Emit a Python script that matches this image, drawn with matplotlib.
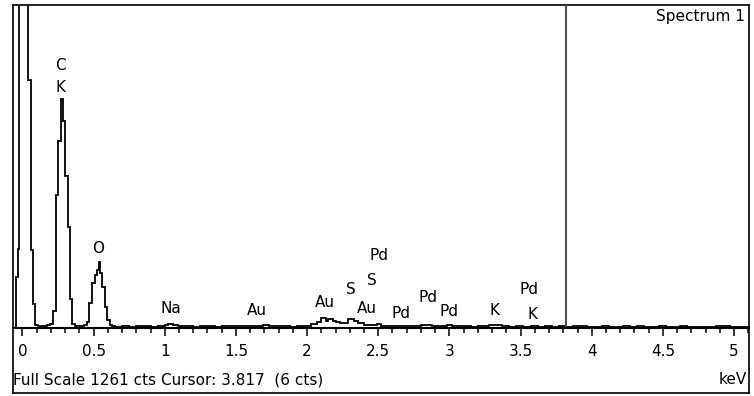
import numpy as np
import matplotlib
matplotlib.use('Agg')
import matplotlib.pyplot as plt
from matplotlib.ticker import MultipleLocator, FixedLocator, FixedFormatter

plt.rcParams['font.family'] = ['DejaVu Sans']

# EDS spectrum, channel edges (keV) and counts per channel
edges = [-0.07, -0.042, -0.033, -0.021, 0.042, 0.061, 0.075, 0.091, 0.11, 0.13,
         0.15, 0.17, 0.19, 0.212, 0.235, 0.251, 0.268, 0.286, 0.302, 0.319,
         0.334, 0.349, 0.37, 0.39, 0.41, 0.43, 0.455, 0.471, 0.49, 0.509,
         0.525, 0.537, 0.548, 0.56, 0.579, 0.596, 0.612, 0.63, 0.65, 0.7,
         0.75, 0.8, 0.85, 0.9, 0.95, 1.0, 1.02, 1.06, 1.09, 1.15,
         1.2, 1.25, 1.3, 1.35, 1.4, 1.45, 1.5, 1.55, 1.6, 1.65,
         1.69, 1.73, 1.78, 1.83, 1.88, 1.93, 1.98, 2.03, 2.07, 2.1,
         2.13, 2.15, 2.18, 2.2, 2.23, 2.29, 2.33, 2.36, 2.4, 2.45,
         2.49, 2.52, 2.56, 2.6, 2.65, 2.7, 2.75, 2.8, 2.83, 2.88,
         2.93, 2.98, 3.02, 3.06, 3.1, 3.15, 3.2, 3.25, 3.28, 3.33,
         3.37, 3.42, 3.47, 3.52, 3.57, 3.62, 3.67, 3.72, 3.77, 3.82,
         3.87, 3.92, 3.97, 4.02, 4.07, 4.12, 4.17, 4.22, 4.27, 4.32,
         4.37, 4.42, 4.47, 4.52, 4.57, 4.62, 4.67, 4.72, 4.77, 4.82,
         4.87, 4.92, 4.97, 5.02, 5.105]
counts = [0, 200, 310, 3000, 970, 305, 95, 10, 6, 8,
          7, 10, 15, 65, 520, 730, 893, 810, 592, 395,
          115, 14, 8, 6, 9, 12, 24, 98, 176, 205,
          225, 258, 215, 160, 82, 31, 12, 6, 4, 7,
          5, 6, 8, 5, 7, 11, 17, 11, 7, 7,
          5, 6, 7, 5, 6, 7, 8, 6, 9, 8,
          11, 7, 6, 7, 5, 7, 8, 16, 22, 40,
          28, 34, 28, 24, 21, 36, 26, 19, 13, 11,
          16, 8, 6, 7, 8, 6, 8, 10, 13, 8,
          7, 11, 7, 6, 7, 5, 7, 9, 13, 11,
          7, 5, 6, 5, 7, 5, 6, 4, 7, 5,
          6, 6, 4, 5, 6, 4, 5, 6, 4, 7,
          5, 4, 6, 5, 4, 6, 4, 5, 4, 5,
          6, 6, 4, 5]

# peak labels: text, energy (keV), height (cts)
peak_text = ['C', 'K', 'O', 'Na', 'Au', 'Au', 'S', 'S', 'Pd', 'Au',
             'Pd', 'Pd', 'Pd', 'K', 'Pd', 'K']
peak_kev = [0.27, 0.27, 0.531, 1.04, 1.649, 2.124, 2.307, 2.454, 2.504, 2.419,
            2.658, 2.848, 2.996, 3.319, 3.558, 3.586]
peak_cts = [1026, 938, 309, 78, 67, 98, 149, 184, 282, 78,
            55, 121, 63, 67, 149, 51]

tick_pos = [0, 0.5, 1, 1.5, 2, 2.5, 3, 3.5, 4, 4.5, 5]
tick_lab = ['0', '0.5', '1', '1.5', '2', '2.5', '3', '3.5', '4', '4.5', '5']

full_scale = 1261
cursor_kev = 3.817
xmin, xmax = -0.07, 5.105

W, H = 754, 396
fig = plt.figure(figsize=(W / 100, H / 100), dpi=100)

# outer frame
fl, fr, ft, fb = 12.5, 749, 5, 393
bg = fig.add_axes([fl / W, (H - fb) / H, (fr - fl) / W, (fb - ft) / H])
bg.set_xticks([])
bg.set_yticks([])
for s in bg.spines.values():
    s.set_linewidth(1.2)
bg.text(0.001, (fb - 380) / (fb - ft), 'Full Scale 1261 cts Cursor: 3.817  (6 cts)',
        ha='left', va='center', fontsize=11)
bg.text(0.997, (fb - 380) / (fb - ft), 'keV', ha='right', va='center', fontsize=11)

# spectrum axes
base = 328
ax = fig.add_axes([fl / W, (H - base) / H, (fr - fl) / W, (base - ft) / H])
ax.patch.set_alpha(0)
ax.stairs(counts, edges, color='black', lw=1.3, baseline=None)
ax.axvline(cursor_kev, color='#505050', lw=1.5)
ax.set_xlim(xmin, xmax)
ax.set_ylim(0, full_scale)
for k in ['top', 'left', 'right']:
    ax.spines[k].set_visible(False)
ax.spines['bottom'].set_linewidth(1.5)
ax.set_yticks([])
ax.xaxis.set_major_locator(FixedLocator(tick_pos))
ax.xaxis.set_major_formatter(FixedFormatter(tick_lab))
ax.xaxis.set_minor_locator(MultipleLocator(0.1))
ax.tick_params(axis='x', which='major', length=6, width=1.1, pad=5.5, labelsize=11)
ax.tick_params(axis='x', which='minor', length=3.5, width=1.1)

for t, e, c in zip(peak_text, peak_kev, peak_cts):
    ax.text(e, c, t, ha='center', va='center', fontsize=11)
ax.text(0.995, (base - 17) / (base - ft), 'Spectrum 1', transform=ax.transAxes,
        ha='right', va='center', fontsize=11)

fig.savefig('out.png', dpi=100)
